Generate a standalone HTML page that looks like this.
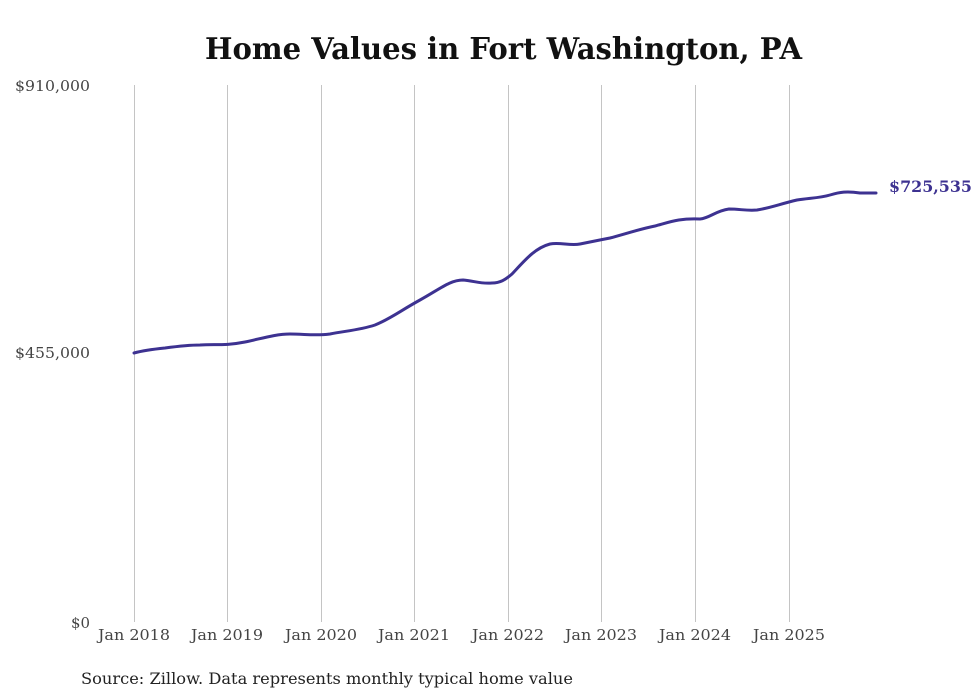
<!DOCTYPE html>
<html><head><meta charset="utf-8"><style>
body{margin:0;background:#fff;}
svg{display:block;}
</style></head><body>
<svg width="980" height="699" xmlns="http://www.w3.org/2000/svg">
<rect width="980" height="699" fill="#fff"/>
<text x="205" y="59" textLength="597" lengthAdjust="spacingAndGlyphs" font-family="'DejaVu Serif', 'Liberation Serif', serif" font-weight="bold" font-size="30" fill="#111">Home Values in Fort Washington, PA</text>
<g stroke="#c4c4c4" stroke-width="1">
<line x1="134.5" y1="85" x2="134.5" y2="622"/><line x1="227.5" y1="85" x2="227.5" y2="622"/>
<line x1="321.5" y1="85" x2="321.5" y2="622"/><line x1="414.5" y1="85" x2="414.5" y2="622"/>
<line x1="508.5" y1="85" x2="508.5" y2="622"/><line x1="601.5" y1="85" x2="601.5" y2="622"/>
<line x1="695.5" y1="85" x2="695.5" y2="622"/><line x1="789.5" y1="85" x2="789.5" y2="622"/>
</g>
<g font-family="'DejaVu Serif', 'Liberation Serif', serif" font-size="15" fill="#444">
<text x="15" y="91" textLength="75" lengthAdjust="spacingAndGlyphs">$910,000</text>
<text x="15" y="358" textLength="75" lengthAdjust="spacingAndGlyphs">$455,000</text>
<text x="71" y="628" textLength="19" lengthAdjust="spacingAndGlyphs">$0</text>
</g>
<g font-family="'DejaVu Serif', 'Liberation Serif', serif" font-size="15" fill="#444">
<text x="98" y="640" textLength="72" lengthAdjust="spacingAndGlyphs">Jan 2018</text>
<text x="191" y="640" textLength="72" lengthAdjust="spacingAndGlyphs">Jan 2019</text>
<text x="285" y="640" textLength="72" lengthAdjust="spacingAndGlyphs">Jan 2020</text>
<text x="378" y="640" textLength="72" lengthAdjust="spacingAndGlyphs">Jan 2021</text>
<text x="472" y="640" textLength="72" lengthAdjust="spacingAndGlyphs">Jan 2022</text>
<text x="565" y="640" textLength="72" lengthAdjust="spacingAndGlyphs">Jan 2023</text>
<text x="659" y="640" textLength="72" lengthAdjust="spacingAndGlyphs">Jan 2024</text>
<text x="753" y="640" textLength="72" lengthAdjust="spacingAndGlyphs">Jan 2025</text>
</g>
<path d="M134,353 C145,350 155,349 165,348 C180,346 190,345 200,345 C215,344 225,346 245,342 C260,339 275,334 290,334 C305,334 315,336 330,334 C345,331 360,330 375,325 C390,319 400,311 420,300 C440,289 450,280 463,280 C475,281 480,284 492,283 C500,283 505,280 512,274 C525,260 535,248 550,244 C560,242 570,246 580,244 C595,241 600,240 610,238 C625,234 640,229 655,226 C670,222 680,218 700,219 C710,218 715,211 729,209 C740,209 747,211 757,210 C770,208 780,204 797,200 C810,198 820,198 830,195 C840,192 847,191 860,193 L876,193" fill="none" stroke="#3d3291" stroke-width="3" stroke-linecap="round"/>
<text x="889" y="192" textLength="83" lengthAdjust="spacingAndGlyphs" font-family="'DejaVu Serif', 'Liberation Serif', serif" font-weight="bold" font-size="16" fill="#3d3291">$725,535</text>
<text x="81" y="684" textLength="492" lengthAdjust="spacingAndGlyphs" font-family="'DejaVu Serif', 'Liberation Serif', serif" font-size="16" fill="#222">Source: Zillow. Data represents monthly typical home value</text>
</svg>
</body></html>
